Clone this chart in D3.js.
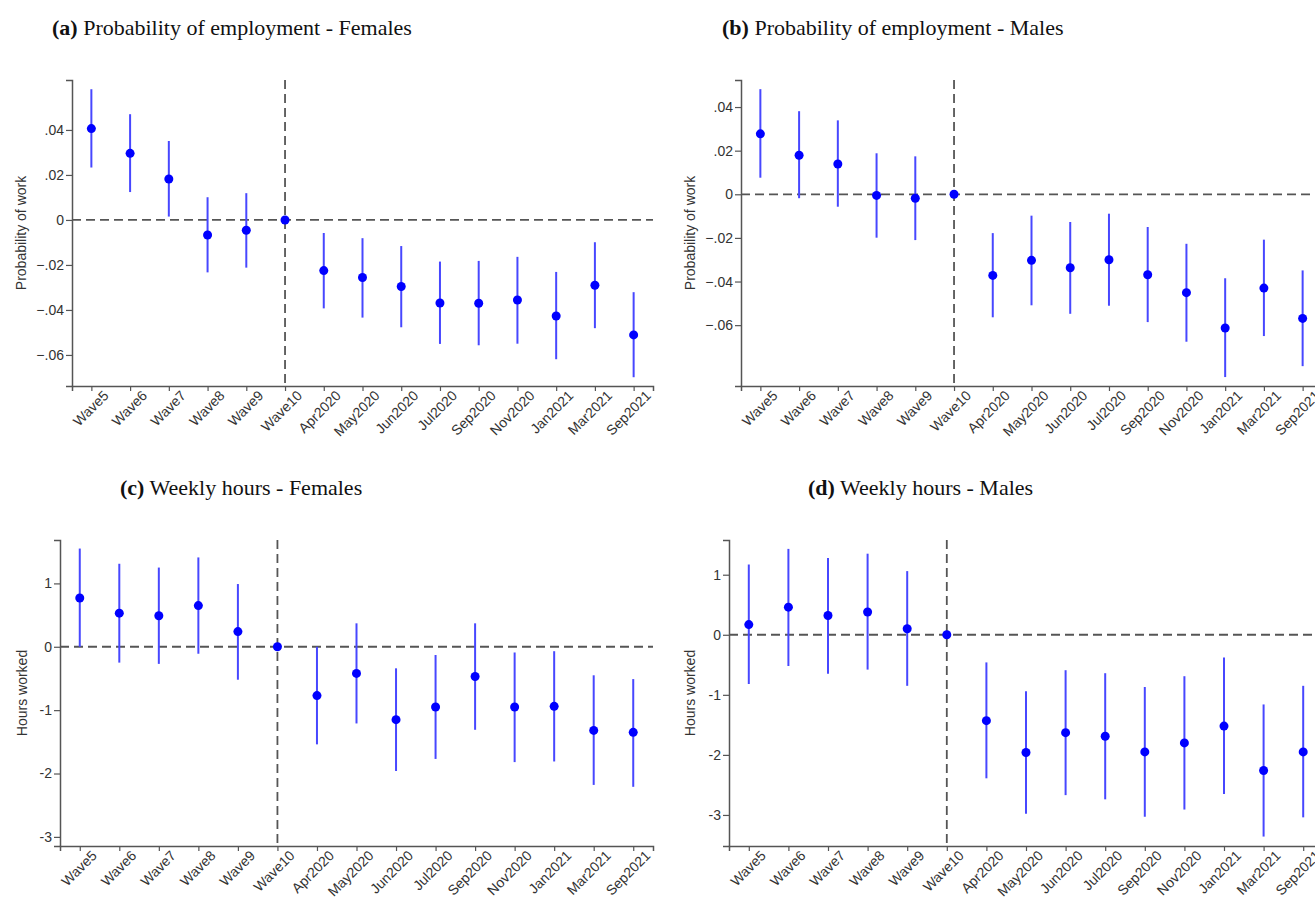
<!DOCTYPE html>
<html>
<head>
<meta charset="utf-8">
<script src="https://cdn.jsdelivr.net/npm/d3@7"></script>
<style>
  body { margin: 0; background: #fff; }
  svg { display: block; }
  .tick text { font-family: "Liberation Sans", Arial, sans-serif; font-size: 14px; fill: #333; }
</style>
</head>
<body>
<div id="chart"></div>
<script>
// categories on the x axis
const categories = ['Wave5', 'Wave6', 'Wave7', 'Wave8', 'Wave9', 'Wave10', 'Apr2020', 'May2020', 'Jun2020', 'Jul2020', 'Sep2020', 'Nov2020', 'Jan2021', 'Mar2021', 'Sep2021']

// (a) probability of employment - females
const femEmpEst = [0.0406, 0.0296, 0.0182, -0.0067, -0.0046, 0, -0.0225, -0.0256, -0.0296, -0.0369, -0.0370, -0.0356, -0.0427, -0.0290, -0.0511]
const femEmpLo = [0.0233, 0.0124, 0.0015, -0.0233, -0.0212, 0, -0.0393, -0.0434, -0.0477, -0.0551, -0.0557, -0.0550, -0.0619, -0.0481, -0.0699]
const femEmpHi = [0.0581, 0.0470, 0.0351, 0.0101, 0.0119, 0, -0.0058, -0.0081, -0.0116, -0.0185, -0.0182, -0.0164, -0.0231, -0.0099, -0.0321]

// (b) probability of employment - males
const maleEmpEst = [0.0277, 0.0179, 0.0139, -0.0005, -0.0018, 0, -0.0372, -0.0303, -0.0337, -0.0300, -0.0369, -0.0451, -0.0613, -0.0430, -0.0569]
const maleEmpLo = [0.0076, -0.0018, -0.0057, -0.0199, -0.0210, 0, -0.0564, -0.0509, -0.0548, -0.0511, -0.0586, -0.0676, -0.0838, -0.0650, -0.0788]
const maleEmpHi = [0.0482, 0.0381, 0.0339, 0.0188, 0.0174, 0, -0.0178, -0.0098, -0.0127, -0.0089, -0.0150, -0.0227, -0.0385, -0.0208, -0.0349]

// (c) weekly hours - females
const femHrsEst = [0.77, 0.53, 0.49, 0.65, 0.24, 0, -0.77, -0.42, -1.15, -0.95, -0.47, -0.95, -0.94, -1.32, -1.35]
const femHrsLo = [0.00, -0.25, -0.27, -0.11, -0.52, 0, -1.54, -1.21, -1.96, -1.77, -1.31, -1.82, -1.81, -2.18, -2.21]
const femHrsHi = [1.55, 1.31, 1.25, 1.41, 0.99, 0, 0.00, 0.37, -0.34, -0.13, 0.37, -0.09, -0.07, -0.45, -0.51]

// (d) weekly hours - males
const maleHrsEst = [0.17, 0.46, 0.32, 0.38, 0.10, 0, -1.43, -1.96, -1.63, -1.69, -1.95, -1.80, -1.52, -2.26, -1.95]
const maleHrsLo = [-0.82, -0.52, -0.65, -0.58, -0.85, 0, -2.39, -2.98, -2.67, -2.74, -3.03, -2.91, -2.65, -3.36, -3.04]
const maleHrsHi = [1.17, 1.43, 1.28, 1.35, 1.06, 0, -0.46, -0.94, -0.59, -0.64, -0.87, -0.69, -0.38, -1.16, -0.85]

const empTicks = [0.04, 0.02, 0, -0.02, -0.04, -0.06]
const hrsTicks = [1, 0, -1, -2, -3]

const width = 1315
const height = 900
const svg = d3.select('#chart').append('svg').attr('width', width).attr('height', height)

// strip the leading zero like Stata does (.04, -.02)
const empFormat = d => d === 0 ? '0' : d3.format('.2f')(d).replace('0.', '.')
const hrsFormat = d => String(d)

const panels = [
  { tag: '(a)', title: ' Probability of employment - Females', tx: 52, ty: 35, est: femEmpEst, lo: femEmpLo, hi: femEmpHi,
    x0: 72, x1: 653, top: 80, bottom: 386, domain: [-0.0738, 0.0622], ticks: empTicks, fmt: empFormat, ylab: 'Probability of work', lx: 21 },
  { tag: '(b)', title: ' Probability of employment - Males', tx: 722, ty: 35, est: maleEmpEst, lo: maleEmpLo, hi: maleEmpHi,
    x0: 741, x1: 1322, top: 80, bottom: 386, domain: [-0.0879, 0.0524], ticks: empTicks, fmt: empFormat, ylab: 'Probability of work', lx: 690 },
  { tag: '(c)', title: ' Weekly hours - Females', tx: 120, ty: 495, est: femHrsEst, lo: femHrsLo, hi: femHrsHi,
    x0: 60, x1: 653, top: 540, bottom: 846, domain: [-3.144, 1.685], ticks: hrsTicks, fmt: hrsFormat, ylab: 'Hours worked', lx: 22 },
  { tag: '(d)', title: ' Weekly hours - Males', tx: 808, ty: 495, est: maleHrsEst, lo: maleHrsLo, hi: maleHrsHi,
    x0: 729, x1: 1323, top: 540, bottom: 846, domain: [-3.517, 1.578], ticks: hrsTicks, fmt: hrsFormat, ylab: 'Hours worked', lx: 690 }
]

panels.forEach(drawPanel)

function drawPanel (p) {
  const g = svg.append('g')
  const x = d3.scalePoint().domain(categories).range([p.x0, p.x1]).padding(0.5)
  const y = d3.scaleLinear().domain(p.domain).range([p.bottom, p.top])

  // title
  const t = g.append('text').attr('x', p.tx).attr('y', p.ty)
    .attr('font-family', '"Liberation Serif", "Times New Roman", serif').attr('font-size', 22).attr('fill', '#111')
  t.append('tspan').attr('font-weight', 'bold').text(p.tag)
  t.append('tspan').text(p.title)

  // y axis
  const yAxis = d3.axisLeft(y).tickValues(p.ticks).tickFormat(p.fmt).tickSize(6).tickPadding(2)
  const ya = g.append('g').attr('transform', 'translate(' + p.x0 + ',0)').call(yAxis)
  ya.select('.domain').attr('stroke', '#555').attr('stroke-width', 1.5)
  ya.selectAll('.tick line').attr('stroke', '#555').attr('stroke-width', 1.2)

  // x axis
  const xAxis = d3.axisBottom(x).tickSize(5).tickPadding(3)
  const xa = g.append('g').attr('transform', 'translate(0,' + p.bottom + ')').call(xAxis)
  xa.select('.domain').attr('stroke', '#555').attr('stroke-width', 1.5)
  xa.selectAll('.tick line').attr('stroke', '#555').attr('stroke-width', 1.2)
  xa.selectAll('.tick text')
    .attr('text-anchor', 'end')
    .attr('dx', '0.35em')
    .attr('dy', '0.85em')
    .attr('transform', 'rotate(-45)')

  // y label
  g.append('text')
    .attr('transform', 'translate(' + p.lx + ',' + ((p.top + p.bottom) / 2) + ') rotate(-90)')
    .attr('text-anchor', 'middle').attr('dy', '0.35em')
    .attr('font-family', '"Liberation Sans", Arial, sans-serif').attr('font-size', 14).attr('fill', '#333')
    .text(p.ylab)

  // reference lines
  g.append('line')
    .attr('x1', p.x0).attr('x2', p.x1).attr('y1', y(0)).attr('y2', y(0))
    .attr('stroke', '#555').attr('stroke-width', 1.8).attr('stroke-dasharray', '9,5')
  g.append('line')
    .attr('x1', x('Wave10')).attr('x2', x('Wave10')).attr('y1', p.top).attr('y2', p.bottom)
    .attr('stroke', '#555').attr('stroke-width', 1.8).attr('stroke-dasharray', '9,5')

  // confidence intervals
  g.selectAll('.ci').data(categories).enter().append('line')
    .attr('class', 'ci')
    .attr('x1', d => x(d)).attr('x2', d => x(d))
    .attr('y1', (d, i) => y(p.lo[i])).attr('y2', (d, i) => y(p.hi[i]))
    .attr('stroke', '#4747ff').attr('stroke-width', 2)

  // point estimates
  g.selectAll('.pt').data(categories).enter().append('circle')
    .attr('class', 'pt')
    .attr('cx', d => x(d)).attr('cy', (d, i) => y(p.est[i]))
    .attr('r', 4.5).attr('fill', '#0000ff')
}
</script>
</body>
</html>
